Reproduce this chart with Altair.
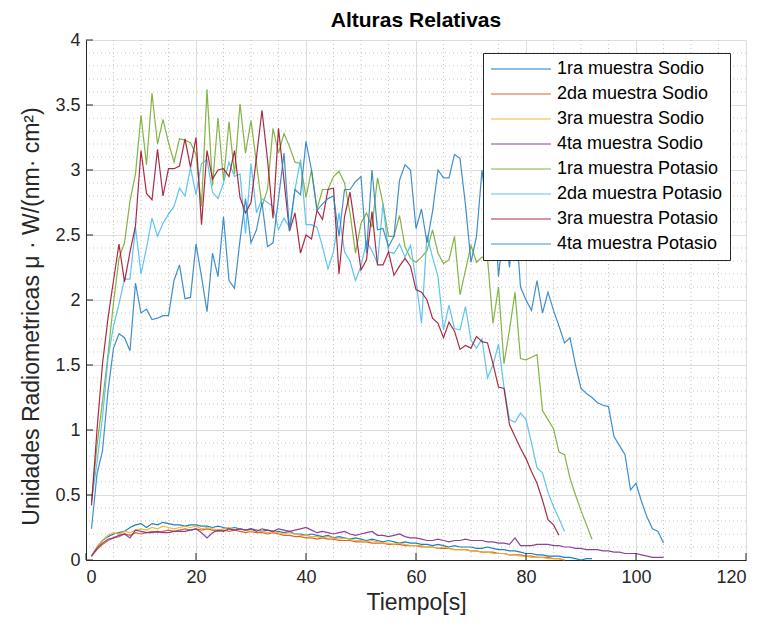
import altair as alt
import pandas as pd

names = ["1ra muestra Sodio", "2da muestra Sodio", "3ra muestra Sodio", "4ta muestra Sodio",
         "1ra muestra Potasio", "2da muestra Potasio", "3ra muestra Potasio", "4ta muestra Potasio"]
colors = ["#0072BD", "#D95319", "#EDB120", "#7E2F8E", "#77AC30", "#4DBEEE", "#A2142F", "#2B83C6"]

sodio_1 = [0.03,0.10,0.15,0.18,0.20,0.21,0.22,0.25,0.27,0.28,
           0.25,0.28,0.27,0.29,0.28,0.27,0.27,0.26,0.27,0.27,
           0.26,0.26,0.25,0.26,0.25,0.24,0.25,0.24,0.23,0.24,
           0.23,0.22,0.23,0.22,0.22,0.21,0.22,0.20,0.20,0.19,
           0.20,0.19,0.18,0.19,0.17,0.18,0.17,0.16,0.17,0.16,
           0.15,0.16,0.15,0.14,0.15,0.14,0.13,0.14,0.13,0.13,
           0.12,0.12,0.11,0.12,0.11,0.10,0.11,0.10,0.10,0.10,
           0.09,0.09,0.10,0.09,0.08,0.08,0.07,0.07,0.06,0.05,
           0.05,0.04,0.04,0.03,0.03,0.03,0.02,0.02,0.01,0.00,
           0.01,0.01]
sodio_2 = [0.03,0.08,0.12,0.15,0.17,0.18,0.20,0.19,0.21,0.20,
           0.21,0.22,0.21,0.22,0.23,0.22,0.23,0.24,0.23,0.24,
           0.23,0.24,0.23,0.22,0.23,0.22,0.23,0.22,0.21,0.22,
           0.21,0.21,0.20,0.21,0.20,0.19,0.19,0.18,0.18,0.17,
           0.17,0.16,0.17,0.16,0.16,0.15,0.15,0.15,0.14,0.14,
           0.14,0.13,0.13,0.13,0.12,0.12,0.12,0.11,0.11,0.11,
           0.10,0.10,0.10,0.09,0.09,0.09,0.08,0.08,0.08,0.07,
           0.07,0.06,0.06,0.06,0.05,0.05,0.04,0.04,0.04,0.03,
           0.03,0.02,0.02,0.02,0.01,0.01,0.00]
sodio_3 = [0.03,0.10,0.15,0.19,0.21,0.20,0.22,0.21,0.23,0.24,
           0.23,0.25,0.24,0.26,0.25,0.24,0.25,0.26,0.25,0.26,
           0.24,0.25,0.24,0.23,0.24,0.25,0.23,0.24,0.23,0.22,
           0.23,0.22,0.21,0.22,0.21,0.20,0.21,0.20,0.19,0.19,
           0.18,0.18,0.17,0.18,0.17,0.16,0.17,0.16,0.15,0.15,
           0.14,0.15,0.14,0.13,0.13,0.12,0.13,0.12,0.11,0.11,
           0.11,0.10,0.10,0.09,0.10,0.09,0.08,0.08,0.08,0.07,
           0.07,0.06,0.06,0.05,0.05,0.05,0.04,0.04,0.03,0.03,
           0.02,0.02,0.02,0.01,0.01,0.01,0.00]
sodio_4 = [0.03,0.09,0.13,0.16,0.17,0.19,0.20,0.17,0.23,0.22,
           0.21,0.21,0.22,0.21,0.21,0.22,0.22,0.22,0.23,0.24,
           0.21,0.17,0.21,0.23,0.22,0.24,0.23,0.24,0.23,0.24,
           0.22,0.24,0.23,0.22,0.24,0.23,0.22,0.23,0.24,0.25,
           0.23,0.21,0.22,0.21,0.20,0.21,0.22,0.20,0.19,0.20,
           0.21,0.22,0.19,0.19,0.18,0.19,0.20,0.18,0.17,0.17,
           0.16,0.15,0.15,0.16,0.15,0.14,0.15,0.15,0.16,0.15,
           0.15,0.15,0.14,0.14,0.13,0.13,0.12,0.17,0.11,0.11,
           0.11,0.12,0.12,0.12,0.11,0.11,0.10,0.10,0.09,0.09,
           0.08,0.08,0.08,0.07,0.07,0.06,0.06,0.05,0.05,0.05,
           0.04,0.03,0.02,0.02,0.02]
potasio_1 = [0.45,0.88,1.22,1.58,1.98,2.32,2.44,2.76,2.97,3.42,
             3.04,3.59,3.20,3.39,3.21,3.06,3.24,3.23,3.21,3.12,
             2.72,3.62,2.88,3.40,2.92,3.37,2.97,3.51,3.13,3.38,
             3.05,2.72,2.85,3.32,3.13,3.28,3.18,3.06,3.05,2.79,
             3.00,2.70,2.85,2.85,2.95,2.99,2.90,2.67,2.36,2.59,
             2.67,2.56,2.94,2.74,2.49,2.49,2.65,2.41,2.32,2.29,
             2.33,2.38,2.54,2.36,2.28,2.31,2.49,2.04,2.23,2.42,
             2.29,2.33,2.32,1.82,2.10,1.51,1.77,2.06,1.55,1.54,
             1.56,1.58,1.15,1.08,1.01,0.83,0.81,0.63,0.50,0.38,
             0.27,0.16]
potasio_2 = [0.45,0.75,1.10,1.55,1.80,1.97,2.16,2.16,2.56,2.20,
             2.40,2.63,2.49,2.59,2.66,2.72,2.86,2.80,3.02,2.81,
             3.05,3.08,2.83,2.78,2.90,3.06,2.95,2.97,2.51,3.05,
             2.67,2.78,2.75,2.72,2.54,2.63,2.56,2.85,3.08,2.58,
             2.58,2.56,2.41,2.24,2.37,2.67,2.37,2.30,2.15,2.26,
             2.45,2.38,2.28,2.74,2.37,2.36,2.43,2.33,2.42,2.15,
             1.82,2.50,2.33,2.18,1.77,1.96,1.78,1.77,1.95,1.69,
             1.63,1.70,1.40,1.50,1.66,1.33,1.08,1.06,1.13,1.08,
             0.90,0.71,0.67,0.52,0.41,0.32,0.22]
potasio_3 = [0.42,1.00,1.51,1.86,2.15,2.43,2.14,2.37,2.57,3.15,
             2.82,2.77,3.16,2.80,3.01,3.01,3.03,3.24,3.02,3.25,
             2.58,3.15,2.93,3.00,3.01,2.95,3.15,2.79,2.67,2.75,
             3.10,3.46,3.08,2.63,3.32,2.92,2.53,2.67,2.36,2.50,
             2.47,2.69,2.62,2.85,2.86,2.20,2.64,2.83,2.54,2.23,
             2.31,2.68,2.27,2.27,2.37,2.19,2.26,2.32,2.26,2.08,
             2.06,2.00,1.86,1.82,1.71,1.83,1.76,1.62,1.65,1.63,
             1.72,1.68,1.67,1.51,1.33,1.32,1.04,0.95,0.86,0.78,
             0.68,0.59,0.46,0.31,0.27,0.19]
potasio_4 = [0.24,0.66,0.84,1.30,1.63,1.74,1.71,1.61,2.13,1.90,
             1.93,1.85,1.86,1.88,1.88,2.15,2.27,2.01,2.02,2.43,
             2.18,1.91,2.36,2.18,2.64,2.15,2.09,2.46,2.78,2.44,
             2.54,2.75,2.41,2.44,2.78,3.13,2.53,2.85,2.81,3.22,
             3.00,2.69,2.74,2.78,2.80,2.49,2.85,2.85,2.91,2.95,
             2.36,3.00,2.54,2.55,2.41,2.49,2.92,3.04,3.00,2.55,
             2.70,2.44,2.68,3.00,2.94,2.94,3.12,3.09,2.73,2.29,
             2.49,3.00,2.65,2.90,2.18,2.60,2.25,2.70,2.10,2.00,
             1.92,2.15,1.90,2.06,1.92,1.80,1.67,1.71,1.50,1.32,
             1.28,1.25,1.21,1.19,1.18,0.95,0.88,0.81,0.54,0.59,
             0.45,0.33,0.24,0.22,0.13]

x_major = [0, 20, 40, 60, 80, 100, 120]
y_major = [0, 0.5, 1, 1.5, 2, 2.5, 3, 3.5, 4]
x_minor = [5, 10, 15, 25, 30, 35, 45, 50, 55, 65, 70, 75, 85, 90, 95, 105, 110, 115]
y_minor = [0.1, 0.2, 0.3, 0.4, 0.6, 0.7, 0.8, 0.9, 1.1, 1.2, 1.3, 1.4, 1.6, 1.7, 1.8, 1.9,
           2.1, 2.2, 2.3, 2.4, 2.6, 2.7, 2.8, 2.9, 3.1, 3.2, 3.3, 3.4, 3.6, 3.7, 3.8, 3.9]

series = [sodio_1, sodio_2, sodio_3, sodio_4, potasio_1, potasio_2, potasio_3, potasio_4]
rows = []
for k, (name, vals) in enumerate(zip(names, series)):
    for i, v in enumerate(vals):
        rows.append({"serie": name, "orden": k, "t": i + 1, "v": v})
df = pd.DataFrame(rows)

FONT = "Liberation Sans"
W, H = 660, 520
xscale = alt.Scale(domain=[0, 120], nice=False, zero=False)
yscale = alt.Scale(domain=[0, 4], nice=False, zero=False)

xaxis = alt.Axis(values=x_major, grid=True, tickSize=0, labelPadding=8, titlePadding=5,
                 titleFontSize=23)
yaxis = alt.Axis(values=y_major, grid=True, tickSize=0, labelPadding=6, format="~g",
                 titleFontSize=23, titleX=-55, titleY=276, titleAngle=270,
                 titleBaseline="middle", titleAlign="center")
xenc = alt.X("t:Q", scale=xscale, title="Tiempo[s]", axis=xaxis)
yenc = alt.Y("v:Q", scale=yscale, title="Unidades Radiometricas μ · W/(nm· cm²)", axis=yaxis)

minor_x = alt.Chart(pd.DataFrame({"t": x_minor})).mark_rule(
    color="#c4c4c4", strokeWidth=1, strokeDash=[1, 3]
).encode(x=xenc)
minor_y = alt.Chart(pd.DataFrame({"v": y_minor})).mark_rule(
    color="#c4c4c4", strokeWidth=1, strokeDash=[1, 3]
).encode(y=yenc)

lines = alt.Chart(df).mark_line(strokeWidth=1.2, opacity=0.9).encode(
    x=xenc,
    y=yenc,
    color=alt.Color("serie:N", scale=alt.Scale(domain=names, range=colors),
                    legend=alt.Legend(title=None, orient="none", legendX=397, legendY=13,
                                      symbolType="stroke", symbolSize=3600, clipHeight=18,
                                      symbolStrokeWidth=1.2, labelFontSize=18,
                                      labelFont=FONT, labelColor="#000000",
                                      labelLimit=400, rowPadding=7, padding=7,
                                      labelOffset=5, strokeColor="#262626",
                                      fillColor="white")),
    order=alt.Order("orden:Q"),
    detail="serie:N",
)

ticks_x = alt.Chart(pd.DataFrame({"t": x_major})).mark_rule(color="#262626").encode(
    x=xenc, y=alt.value(H), y2=alt.value(H - 7))
ticks_y = alt.Chart(pd.DataFrame({"v": y_major})).mark_rule(color="#262626").encode(
    y=yenc, x=alt.value(0), x2=alt.value(7))

chart = alt.layer(minor_x, minor_y, lines, ticks_x, ticks_y).properties(
    width=W, height=H,
    background="white",
    title=alt.TitleParams("Alturas Relativas", font=FONT, fontSize=21, fontWeight="bold",
                          color="#000000", anchor="middle", offset=0),
    autosize=alt.AutoSizeParams(type="none"),
    padding={"left": 78, "top": 32, "right": 10, "bottom": 56},
).configure_view(stroke=None).configure_axis(
    labelFont=FONT, labelFontSize=18, labelColor="#262626",
    titleFont=FONT, titleColor="#262626", titleFontWeight="normal",
    domainColor="#262626", domainWidth=1, gridColor="#dedede", gridWidth=1,
)

chart.save("out.html", embed_options={"renderer": "svg", "actions": False})
